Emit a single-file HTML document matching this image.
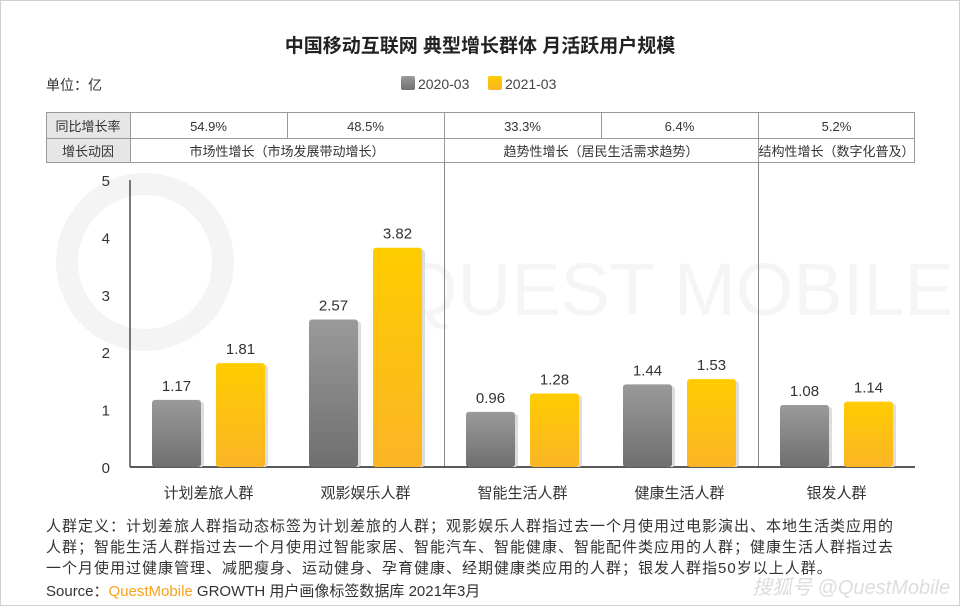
<!DOCTYPE html>
<html><head><meta charset="utf-8">
<style>
body{margin:0;background:#fff;}
svg text{font-family:"Liberation Sans","Noto Sans CJK SC",sans-serif;}
</style></head>
<body>
<svg id="chart" width="960" height="606" viewBox="0 0 960 606" xmlns="http://www.w3.org/2000/svg">
<defs>
<linearGradient id="gGray" x1="0" y1="0" x2="0" y2="1"><stop offset="0" stop-color="#9a9a9a"/><stop offset="1" stop-color="#6f6f6f"/></linearGradient>
<linearGradient id="gGold" x1="0" y1="0" x2="0" y2="1"><stop offset="0" stop-color="#ffcc00"/><stop offset="1" stop-color="#fbb526"/></linearGradient>
</defs>
<rect x="0.5" y="0.5" width="959" height="605" fill="#fff" stroke="#d0d0d0"/>
<g fill="none" stroke="#f4f4f4" stroke-width="22">
<circle cx="145" cy="262" r="78"/>
</g>
<text x="400" y="315" font-size="74" fill="#f5f5f5">QUEST MOBILE</text>
<text x="480" y="52" font-size="19" font-weight="bold" text-anchor="middle" fill="#222">中国移动互联网 典型增长群体 月活跃用户规模</text>
<text x="46" y="90" font-size="14" fill="#333">单位：亿</text>
<g>
<rect x="401" y="76" width="14" height="14" rx="2" fill="url(#gGray)"/>
<text x="418" y="89" font-size="14" fill="#444">2020-03</text>
<rect x="488" y="76" width="14" height="14" rx="2" fill="url(#gGold)"/>
<text x="505" y="89" font-size="14" fill="#444">2021-03</text>
</g>
<g id="table" font-size="13" fill="#333"></g>
<g id="plot"></g>
<g font-size="15" letter-spacing="1.0" fill="#333">
<text x="46" y="531">人群定义：计划差旅人群指动态标签为计划差旅的人群；观影娱乐人群指过去一个月使用过电影演出、本地生活类应用的</text>
<text x="46" y="552">人群；智能生活人群指过去一个月使用过智能家居、智能汽车、智能健康、智能配件类应用的人群；健康生活人群指过去</text>
<text x="46" y="573">一个月使用过健康管理、减肥瘦身、运动健身、孕育健康、经期健康类应用的人群；银发人群指50岁以上人群。</text>
<text x="46" y="596" letter-spacing="0">Source：<tspan fill="#f7a21b">QuestMobile</tspan> GROWTH 用户画像标签数据库 2021年3月</text>
</g>
<text x="752" y="594" font-size="20" font-style="italic" fill="#ddd">搜狐号 @QuestMobile</text>
</svg>
<script>
const categories=["计划差旅人群","观影娱乐人群","智能生活人群","健康生活人群","银发人群"];
const series2020=[1.17,2.57,0.96,1.44,1.08];
const series2021=[1.81,3.82,1.28,1.53,1.14];
const growthRates=["54.9%","48.5%","33.3%","6.4%","5.2%"];
const drivers=["市场性增长（市场发展带动增长）","趋势性增长（居民生活需求趋势）","结构性增长（数字化普及）"];
const driverSpans=[2,2,1];
const yTicks=[0,1,2,3,4,5];
const NS="http://www.w3.org/2000/svg";
const X0=130,X1=915,Y0=467,YT=180,YMAX=5;
const gw=(X1-X0)/categories.length;
const y=v=>Y0-(v/YMAX)*(Y0-YT);
const gx=i=>X0+i*gw;
function mk(tag,attrs,parent,text){const e=document.createElementNS(NS,tag);for(const k in attrs)e.setAttribute(k,attrs[k]);if(text!==undefined)e.textContent=text;parent.appendChild(e);return e;}
const plot=document.getElementById('plot');
const table=document.getElementById('table');
const T0=112,T1=138,T2=163,TL=46;
let e;
e=mk('rect',{x:TL,y:T0,width:X0-TL,height:T2-T0,fill:'#e6e6e6'},table);


mk('rect',{x:TL+0.5,y:T0+0.5,width:X1-TL-1,height:T2-T0-1,fill:'none',stroke:'#999'},table);
mk('line',{x1:TL,x2:X1,y1:T1+0.5,y2:T1+0.5,stroke:'#999'},table);
mk('line',{x1:X0+0.5,x2:X0+0.5,y1:T0,y2:T2,stroke:'#999'},table);
e=mk('text',{x:(TL+X0)/2,y:131,'text-anchor':'middle'},table,'同比增长率');


e=mk('text',{x:(TL+X0)/2,y:156,'text-anchor':'middle'},table,'增长动因');


growthRates.forEach((r,i)=>{
 if(i>0) mk('line',{x1:gx(i)+0.5,x2:gx(i)+0.5,y1:T0,y2:T1,stroke:'#999'},table);
 const t=mk('text',{x:gx(i)+gw/2,y:131,'text-anchor':'middle'},table,r);
 
 
});
let s=0;
drivers.forEach((d,i)=>{
 if(s>0) mk('line',{x1:gx(s)+0.5,x2:gx(s)+0.5,y1:T1,y2:T2,stroke:'#999'},table);
 const t=mk('text',{x:gx(s)+gw*driverSpans[i]/2,y:156,'text-anchor':'middle'},table,d);
 
 
 if(s>0) mk('line',{x1:gx(s)+0.5,x2:gx(s)+0.5,y1:T2,y2:Y0,stroke:'#888'},plot);
 s+=driverSpans[i];
});
e=mk('line',{x1:X0,x2:X0,y1:YT,y2:Y0,stroke:'#222','stroke-width':1.2},plot);


e=mk('line',{x1:X0,x2:X1,y1:Y0,y2:Y0,stroke:'#222','stroke-width':1.5},plot);


yTicks.forEach(v=>{
 const t=mk('text',{x:110,y:y(v)+6,'text-anchor':'end','font-size':15,fill:'#333'},plot,String(v));
 
 
});
const BW=49;
categories.forEach((c,i)=>{
 const vals=[series2020[i],series2021[i]];
 const offs=[22,86];
 const fills=['url(#gGray)','url(#gGold)'];
 vals.forEach((v,j)=>{
  const bx=gx(i)+offs[j];
  mk('rect',{x:bx+3,y:y(v)+2,width:BW,height:Y0-y(v)-2,fill:'#ddd',rx:3},plot);
  const b=mk('rect',{x:bx,y:y(v),width:BW,height:Y0-y(v),fill:fills[j],rx:3},plot);
  
  
  const l=mk('text',{x:bx+BW/2,y:y(v)-9,'text-anchor':'middle','font-size':15,fill:'#333'},plot,v.toFixed(2));
  
  
 });
 const t=mk('text',{x:gx(i)+gw/2,y:498,'text-anchor':'middle','font-size':15,fill:'#333'},plot,c);
 
 
});
</script>
</body></html>
